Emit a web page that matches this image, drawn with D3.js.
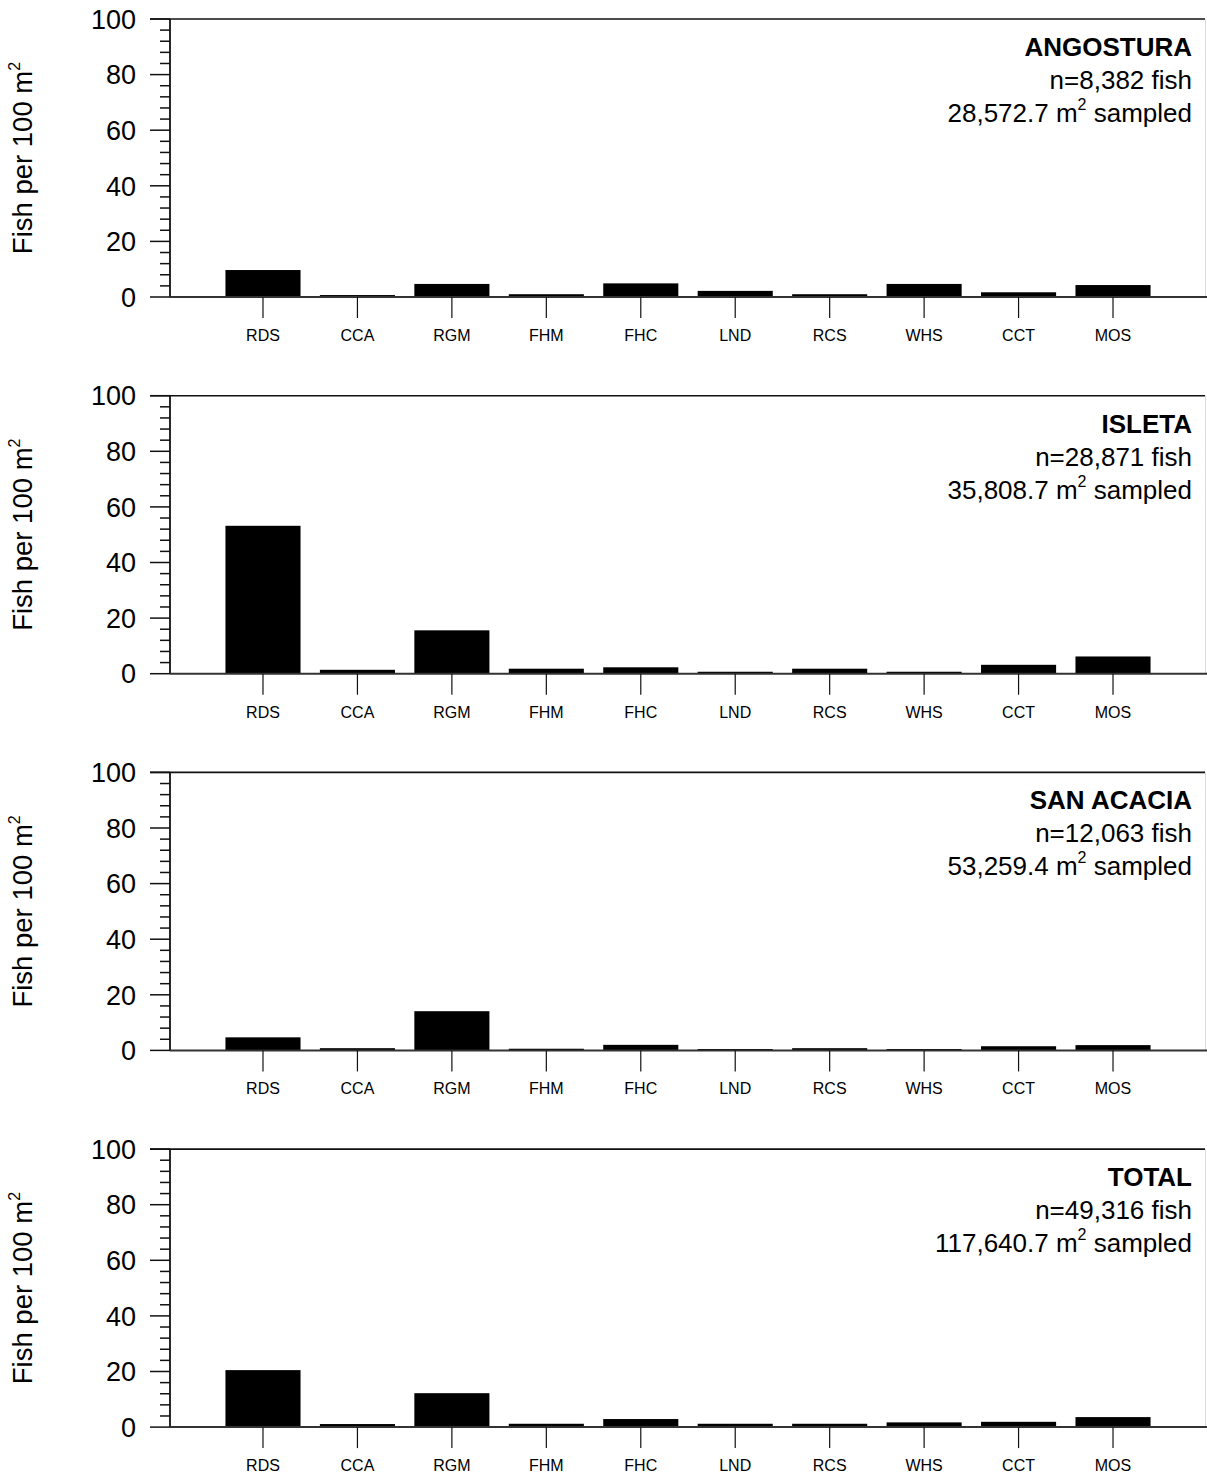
<!DOCTYPE html>
<html>
<head>
<meta charset="utf-8">
<script src="https://cdn.jsdelivr.net/npm/d3@7"></script>
<style>
  html, body { margin: 0; padding: 0; background: #fff; }
  svg { display: block; font-family: "Liberation Sans", Arial, sans-serif; }
</style>
</head>
<body>
<svg id="chart" width="1207" height="1474"></svg>
<script>
const categories = ["RDS", "CCA", "RGM", "FHM", "FHC", "LND", "RCS", "WHS", "CCT", "MOS"];

const angosturaValues = [9.7, 0.7, 4.7, 1.0, 4.9, 2.2, 1.0, 4.7, 1.7, 4.3];
const isletaValues    = [53.2, 1.4, 15.6, 1.8, 2.3, 0.7, 1.8, 0.7, 3.2, 6.2];
const sanAcaciaValues = [4.7, 0.8, 14.1, 0.6, 2.0, 0.5, 0.8, 0.5, 1.5, 1.9];
const totalValues     = [20.5, 1.1, 12.2, 1.2, 2.9, 1.2, 1.2, 1.7, 1.9, 3.6];

const panelNames  = ["ANGOSTURA", "ISLETA", "SAN ACACIA", "TOTAL"];
const panelFish   = ["n=8,382 fish", "n=28,871 fish", "n=12,063 fish", "n=49,316 fish"];
const panelArea   = ["28,572.7", "35,808.7", "53,259.4", "117,640.7"];
const panelValues = [angosturaValues, isletaValues, sanAcaciaValues, totalValues];

const yMajorTicks = [0, 20, 40, 60, 80, 100];
const yMinorTicks = d3.range(0, 101, 4);

const svg = d3.select("#chart");

const axisX = 170;
const plotRight = 1207;
const panelTop0 = 19;
const panelStep = 376.7;
const panelHeight = 278;

const x = d3.scaleBand()
  .domain(categories)
  .range([216, 1160])
  .paddingInner(0.205)
  .paddingOuter(0.1);

panelValues.forEach((vals, i) => {
  const top = panelTop0 + i * panelStep;
  const zero = top + panelHeight;
  const y = d3.scaleLinear().domain([0, 100]).range([zero, top]);
  const g = svg.append("g");

  // top frame line
  g.append("line")
    .attr("x1", 150).attr("x2", 1205)
    .attr("y1", y(100)).attr("y2", y(100))
    .attr("stroke", "#111").attr("stroke-width", 1.6);

  // faint right edge
  g.append("line")
    .attr("x1", 1205.5).attr("x2", 1205.5)
    .attr("y1", y(100)).attr("y2", zero)
    .attr("stroke", "#ddd").attr("stroke-width", 1);

  // bars
  g.selectAll("rect.bar")
    .data(categories.map((c, j) => ({ c, v: vals[j] })))
    .join("rect")
    .attr("class", "bar")
    .attr("x", d => x(d.c))
    .attr("width", x.bandwidth())
    .attr("y", d => y(d.v))
    .attr("height", d => zero - y(d.v))
    .attr("fill", "#000");

  // minor ticks
  g.selectAll("line.minor")
    .data(yMinorTicks.filter(t => t % 20 !== 0))
    .join("line")
    .attr("class", "minor")
    .attr("x1", 160).attr("x2", axisX)
    .attr("y1", d => y(d)).attr("y2", d => y(d))
    .attr("stroke", "#111").attr("stroke-width", 1.5);

  // major ticks
  g.selectAll("line.major")
    .data(yMajorTicks)
    .join("line")
    .attr("class", "major")
    .attr("x1", 150).attr("x2", axisX)
    .attr("y1", d => y(d)).attr("y2", d => y(d))
    .attr("stroke", "#111").attr("stroke-width", 1.5);

  // y tick labels
  g.selectAll("text.ytl")
    .data(yMajorTicks)
    .join("text")
    .attr("class", "ytl")
    .attr("x", 136)
    .attr("y", d => y(d))
    .attr("dy", "0.36em")
    .attr("text-anchor", "end")
    .attr("font-size", 27)
    .attr("fill", "#000")
    .text(d => d);

  // y axis line
  g.append("line")
    .attr("x1", axisX).attr("x2", axisX)
    .attr("y1", y(100)).attr("y2", zero)
    .attr("stroke", "#111").attr("stroke-width", 1.8);

  // x axis line
  g.append("line")
    .attr("x1", axisX).attr("x2", plotRight)
    .attr("y1", zero).attr("y2", zero)
    .attr("stroke", "#333").attr("stroke-width", 2);

  // x ticks
  g.selectAll("line.xt")
    .data(categories)
    .join("line")
    .attr("class", "xt")
    .attr("x1", d => x(d) + x.bandwidth() / 2)
    .attr("x2", d => x(d) + x.bandwidth() / 2)
    .attr("y1", zero).attr("y2", zero + 21)
    .attr("stroke", "#111").attr("stroke-width", 1.2);

  // x labels
  g.selectAll("text.xl")
    .data(categories)
    .join("text")
    .attr("class", "xl")
    .attr("x", d => x(d) + x.bandwidth() / 2)
    .attr("y", zero + 44)
    .attr("text-anchor", "middle")
    .attr("font-size", 16)
    .attr("fill", "#000")
    .text(d => d);

  // y axis title
  const ty = g.append("text")
    .attr("transform", `translate(32, ${(top + zero) / 2}) rotate(-90)`)
    .attr("text-anchor", "middle")
    .attr("font-size", 27.5)
    .attr("fill", "#000");
  ty.append("tspan").text("Fish per 100 m");
  ty.append("tspan").attr("font-size", 16).attr("dy", -12).text("2");

  // annotation
  const ax = 1192;
  g.append("text")
    .attr("x", ax).attr("y", top + 37)
    .attr("text-anchor", "end")
    .attr("font-size", 26).attr("font-weight", "bold")
    .attr("fill", "#000")
    .text(panelNames[i]);
  g.append("text")
    .attr("x", ax).attr("y", top + 70)
    .attr("text-anchor", "end")
    .attr("font-size", 26)
    .attr("fill", "#000")
    .text(panelFish[i]);
  const t3 = g.append("text")
    .attr("x", ax).attr("y", top + 103)
    .attr("text-anchor", "end")
    .attr("font-size", 26)
    .attr("fill", "#000");
  t3.append("tspan").text(panelArea[i] + " m");
  t3.append("tspan").attr("font-size", 16).attr("dy", -12).text("2");
  t3.append("tspan").attr("dy", 12).text(" sampled");
});
</script>
</body>
</html>
